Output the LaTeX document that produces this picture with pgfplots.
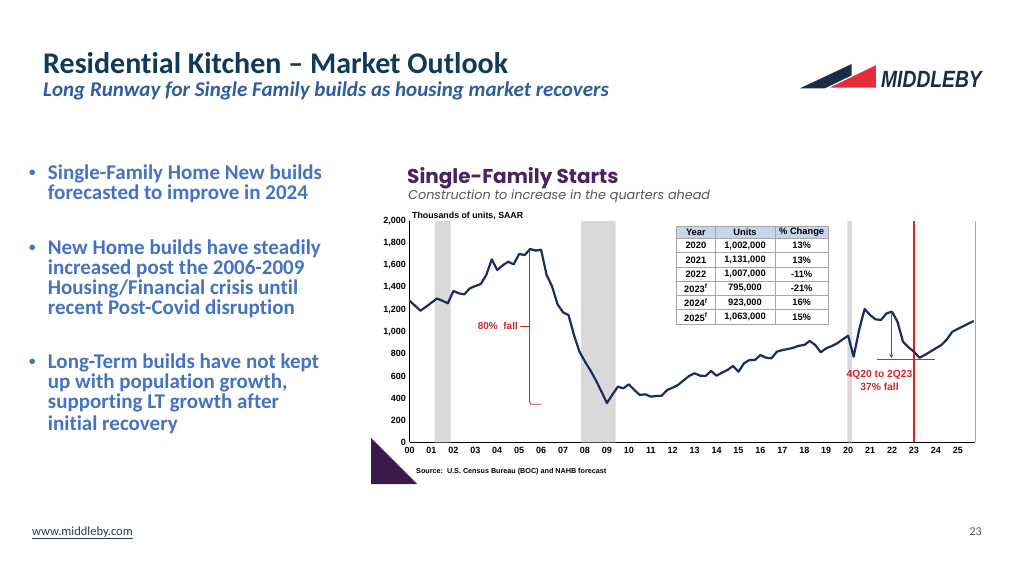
\documentclass[border=0pt]{standalone}
\usepackage{fontspec}
\setmainfont{Carlito}[Ligatures=NoCommon]
\newfontfamily\chartfont{Liberation Sans}
\newfontfamily\popfont{Poppins}
\usepackage{pgfplots}
\pgfplotsset{compat=1.18}

\definecolor{titlenavy}{HTML}{103A5C}
\definecolor{subblue}{HTML}{2F5C9E}
\definecolor{bulletblue}{HTML}{4472C4}
\definecolor{chartpurple}{HTML}{4A2360}
\definecolor{subgray}{HTML}{555555}
\definecolor{linenavy}{HTML}{1B2D60}
\definecolor{vred}{HTML}{E2231A}
\definecolor{annred}{HTML}{D1262E}
\definecolor{recgray}{HTML}{D9D9D9}
\definecolor{hdrblue}{HTML}{C7D5EB}
\definecolor{tblgray}{HTML}{A6A6A6}
\definecolor{cornerpurple}{HTML}{3A1A4A}
\definecolor{logonavy}{HTML}{1C2B4A}
\definecolor{logored}{HTML}{E52D3A}
\definecolor{footblue}{HTML}{1F3864}

\begin{document}
\begin{tikzpicture}[x=1pt,y=1pt]
\path[use as bounding box, fill=white] (0,0) rectangle (1024,576);

% ---------- slide heading ----------
\node[anchor=base west, inner sep=0, text=titlenavy, font=\fontsize{30}{34}\selectfont\bfseries]
  at (43,502) {Residential Kitchen – Market Outlook};
\node[anchor=base west, inner sep=0, text=subblue, font=\fontsize{21}{24}\selectfont\bfseries\itshape]
  at (43,479) {Long Runway for Single Family builds as housing market recovers};

% ---------- logo ----------
\fill[logonavy] (800,487.7) -- (851.7,512) -- (851.7,487.7) -- cycle;
\filldraw[fill=logored, draw=white, line width=1.2pt] (826.7,487.7) -- (876.7,512) -- (876.7,487.7) -- cycle;
\node[anchor=base west, inner sep=0, text=logonavy, xscale=0.82,
      font=\chartfont\fontsize{23.5}{26}\selectfont\bfseries\itshape] at (881,488.7) {MIDDLEBY};

% ---------- bullets ----------
\begin{scope}[every node/.style={anchor=base west, inner sep=0, text=bulletblue,
              font=\fontsize{21}{24}\selectfont\bfseries}]
  \node[font=\fontsize{13}{14}\selectfont\bfseries] at (29,399) {•};
  \node at (47.7,396) {Single-Family Home New builds};
  \node at (47.7,376) {forecasted to improve in 2024};
  \node[font=\fontsize{13}{14}\selectfont\bfseries] at (29,324.7) {•};
  \node at (47.7,321.7) {New Home builds have steadily};
  \node at (47.7,301.7) {increased post the 2006-2009};
  \node at (47.7,281.7) {Housing/Financial crisis until};
  \node at (47.7,261.7) {recent Post-Covid disruption};
  \node[font=\fontsize{13}{14}\selectfont\bfseries] at (29,210.7) {•};
  \node at (47.7,207.7) {Long-Term builds have not kept};
  \node at (47.7,187.7) {up with population growth,};
  \node at (47.7,167.7) {supporting LT growth after};
  \node at (47.7,146) {initial recovery};
\end{scope}

% ---------- footer ----------
\node[anchor=base west, inner sep=0, text=footblue, font=\fontsize{12.5}{15}\selectfont]
  at (32,41) {\underline{www.middleby.com}};
\node[anchor=base east, inner sep=0, text=subgray, font=\fontsize{12}{14}\selectfont]
  at (982,41) {23};

% ---------- chart heading ----------
\node[anchor=base west, inner sep=0, text=chartpurple, font=\popfont\fontsize{20}{24}\selectfont\bfseries]
  at (407,392) {Single-Family Starts};
\node[anchor=base west, inner sep=0, text=subgray, font=\popfont\fontsize{12.8}{15}\selectfont\itshape]
  at (408,376.7) {Construction to increase in the quarters ahead};
\node[anchor=base west, inner sep=0, font=\chartfont\fontsize{8.8}{10}\selectfont\bfseries]
  at (412,357) {Thousands of units, SAAR};

% corner triangle
\fill[cornerpurple] (371,138) -- (371,92) -- (417,92) -- cycle;

% source line
\node[anchor=west, inner sep=0, font=\chartfont\fontsize{7.2}{8}\selectfont\bfseries]
  at (416,104.3) {Source:\ \ U.S. Census Bureau (BOC) and NAHB forecast};

% ---------- chart ----------
\begin{axis}[
  at={(409.5pt,133.7pt)}, anchor=south west,
  scale only axis, width=565.4pt, height=221.2pt,
  xmin=0, xmax=25.78, ymin=0, ymax=2000,
  axis x line*=bottom, axis y line*=left,
  axis line style={-, black, line width=0.9pt},
  xtick={0,...,25},
  xticklabels={00,01,02,03,04,05,06,07,08,09,10,11,12,13,14,15,16,17,18,19,20,21,22,23,24,25},
  ytick={0,200,...,2000},
  yticklabels={0,200,400,600,800,{1,000},{1,200},{1,400},{1,600},{1,800},{2,000}},
  tick style={draw=none},
  ticklabel style={font=\chartfont\fontsize{9}{10}\selectfont\bfseries},
  xticklabel style={yshift=-1.5pt},
  clip=false,
]
% recession periods
\addplot[fill=recgray, draw=none] coordinates {(1.15,0) (1.15,2000) (1.87,2000) (1.87,0)} \closedcycle;
\addplot[fill=recgray, draw=none] coordinates {(7.83,0) (7.83,2000) (9.40,2000) (9.40,0)} \closedcycle;
\addplot[fill=recgray, draw=none] coordinates {(19.96,0) (19.96,2000) (20.17,2000) (20.17,0)} \closedcycle;

% right frame
\addplot[tblgray, line width=0.8pt] coordinates {(25.78,0) (25.78,2000)};

% forecast start
\addplot[vred, line width=1.9pt] coordinates {(23,0) (23,2000)};

% 80% fall bracket
\addplot[annred, line width=0.9pt] coordinates {(6.03,1741) (5.47,1741) (5.47,375) (5.52,344) (6.00,344)};
\addplot[annred, line width=0.9pt] coordinates {(5.05,1050) (5.47,1050)};
\node[anchor=east, inner sep=0, text=annred, font=\chartfont\fontsize{10}{12}\selectfont\bfseries]
  at (axis cs:4.95,1050) {80\%\ \ fall};

% starts, quarterly
\addplot[linenavy, line width=2.2pt, line join=round] coordinates {
(0.00,1280) (0.25,1235) (0.50,1190) (0.75,1225) (1.00,1262) (1.25,1300) (1.50,1280) (1.75,1257)
(2.00,1368) (2.25,1347) (2.50,1338) (2.75,1392) (3.00,1413) (3.25,1431) (3.50,1513) (3.75,1654)
(4.00,1558) (4.25,1600) (4.50,1633) (4.75,1609) (5.00,1703) (5.25,1693) (5.50,1748) (5.75,1733)
(6.00,1741) (6.25,1513) (6.50,1410) (6.75,1248) (7.00,1175) (7.25,1150) (7.50,970) (7.75,819)
(8.00,730) (8.25,650) (8.50,560) (8.75,460) (9.00,355) (9.25,430) (9.50,503) (9.75,488)
(10.00,524) (10.25,473) (10.50,428) (10.75,434) (11.00,413) (11.25,418) (11.50,421) (11.75,473)
(12.00,494) (12.25,520) (12.50,560) (12.75,600) (13.00,624) (13.25,602) (13.50,600) (13.75,645)
(14.00,602) (14.25,630) (14.50,654) (14.75,690) (15.00,638) (15.25,714) (15.50,744) (15.75,744)
(16.00,789) (16.25,765) (16.50,759) (16.75,819) (17.00,834) (17.25,843) (17.50,855) (17.75,873)
(18.00,880) (18.25,916) (18.50,880) (18.75,814) (19.00,850) (19.25,870) (19.50,895) (19.75,930)
(20.00,964) (20.25,774) (20.50,1015) (20.75,1205) (21.00,1151) (21.25,1112) (21.50,1106) (21.75,1166)
(22.00,1181) (22.25,1090) (22.50,910) (22.75,859) (23.00,819) (23.25,765) (23.50,790) (23.75,820)
(24.00,850) (24.25,880) (24.50,930) (24.75,1000) (25.00,1025) (25.25,1050) (25.50,1075) (25.73,1097)
};

% 4Q20 to 2Q23 drop
\addplot[annred, line width=0.9pt, -stealth] coordinates {(21.97,1178) (21.97,760)};
\addplot[annred, line width=0.9pt] coordinates {(21.33,753) (23.94,753)};
\node[align=center, inner sep=0, text=annred, font=\chartfont\fontsize{10.3}{12.5}\selectfont\bfseries]
  at (axis cs:21.43,560) {4Q20 to 2Q23\\37\% fall};
\end{axis}

% ---------- table ----------
\fill[hdrblue] (676.7,337.5) rectangle (828.3,350);
\begin{scope}[tblgray, line width=0.6pt]
  \draw (676.7,252) rectangle (828.3,350);
  \foreach \yy in {337.5,323.25,309,294.75,280.5,266.25} \draw (676.7,\yy) -- (828.3,\yy);
  \draw (715,252) -- (715,350);
  \draw (775,252) -- (775,350);
\end{scope}
\begin{scope}[every node/.style={inner sep=0, font=\chartfont\fontsize{9.3}{10}\selectfont\bfseries}]
  \node at (695.85,343.75) {Year};
  \node at (745,343.75) {Units};
  \node at (801.65,343.75) {\% Change};
  \foreach \yr/\un/\pc [count=\i] in {2020/{1,002,000}/13\%, 2021/{1,131,000}/13\%, 2022/{1,007,000}/-11\%,
      2023\textsuperscript{f}/{795,000}/-21\%, 2024\textsuperscript{f}/{923,000}/16\%, 2025\textsuperscript{f}/{1,063,000}/15\%} {
    \pgfmathsetmacro{\yc}{337.5-14.25*(\i-0.5)}
    \node at (695.85,\yc) {\yr};
    \node at (745,\yc) {\un};
    \node at (801.65,\yc) {\pc};
  }
\end{scope}
\end{tikzpicture}
\end{document}
